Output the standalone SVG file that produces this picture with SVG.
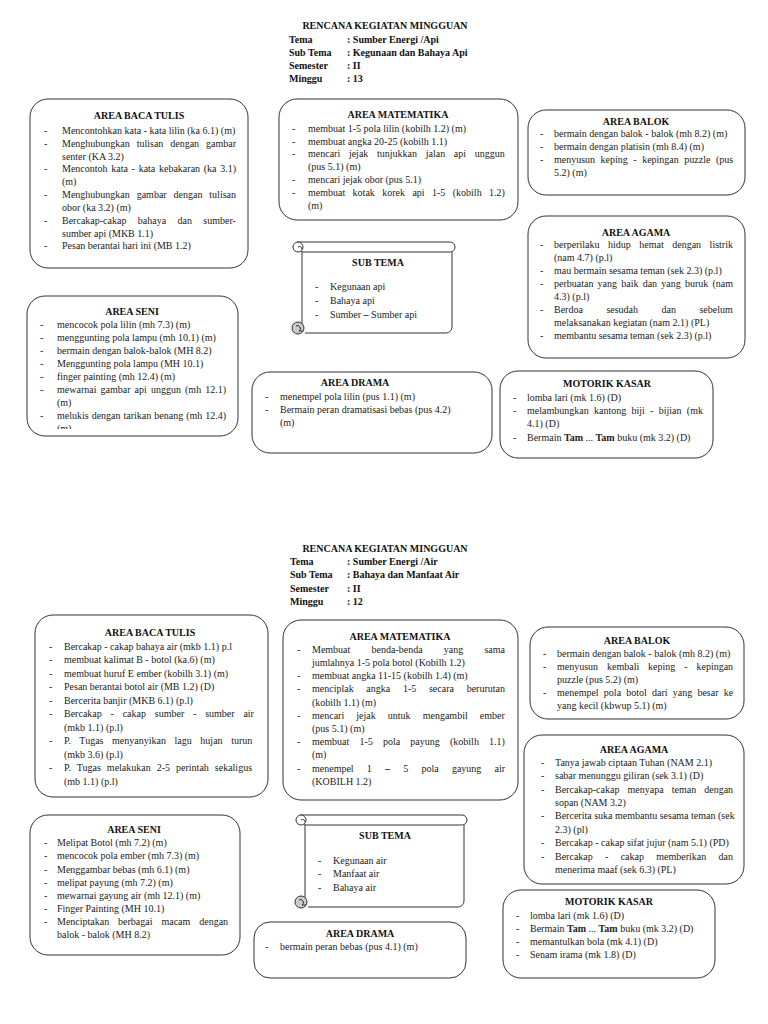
<svg xmlns="http://www.w3.org/2000/svg" width="768" height="1024" viewBox="0 0 768 1024">
<defs>
<style>
.t{font-family:"Liberation Serif","Times New Roman",serif;font-size:10px;fill:#222}
.h{font-family:"Liberation Serif","Times New Roman",serif;font-size:10px;font-weight:bold;fill:#111;text-anchor:middle}
.hd{font-family:"Liberation Serif","Times New Roman",serif;font-size:10px;font-weight:bold;fill:#111}
.box{fill:#fff;stroke:#333;stroke-width:1}
.scr{fill:#fff;stroke:#333;stroke-width:1}
.curl{fill:#ccc;stroke:#333;stroke-width:1}
.b{font-weight:bold}
</style>
<clipPath id="clipSeni"><rect x="27" y="296" width="212" height="133"/></clipPath>
</defs>
<rect width="768" height="1024" fill="#fff"/>

<!-- ===== TOP HEADER ===== -->
<g id="header1">
<text class="h" x="385" y="29">RENCANA KEGIATAN MINGGUAN</text>
<text class="hd" x="289" y="42.5">Tema</text><text class="hd" x="347" y="42.5">: Sumber Energi /Api</text>
<text class="hd" x="289" y="56">Sub Tema</text><text class="hd" x="347" y="56">: Kegunaan dan Bahaya Api</text>
<text class="hd" x="289" y="69">Semester</text><text class="hd" x="347" y="69">: II</text>
<text class="hd" x="289" y="82">Minggu</text><text class="hd" x="347" y="82">: 13</text>
</g>

<g id="connectors"></g>

<g id="bacaTulis1">
<rect class="box" x="30" y="99" width="218" height="169" rx="18"/>
<text class="h" x="139" y="119">AREA BACA TULIS</text>
<text class="t" x="44" y="133.5">-</text><text class="t" x="62" y="133.5">Mencontohkan kata - kata lilin (ka 6.1) (m)</text>
<text class="t" x="44" y="146.5">-</text><text class="t" x="62" y="146.5" style="word-spacing:4.4px">Menghubungkan tulisan dengan gambar</text>
<text class="t" x="62" y="159.5">senter (KA 3.2)</text>
<text class="t" x="44" y="172">-</text><text class="t" x="62" y="172" style="word-spacing:1.2px">Mencontoh kata - kata kebakaran (ka 3.1)</text>
<text class="t" x="62" y="185">(m)</text>
<text class="t" x="44" y="198">-</text><text class="t" x="62" y="198" style="word-spacing:4.4px">Menghubungkan gambar dengan tulisan</text>
<text class="t" x="62" y="211">obor (ka 3.2) (m)</text>
<text class="t" x="44" y="223.5">-</text><text class="t" x="62" y="223.5" style="word-spacing:8.9px">Bercakap-cakap bahaya dan sumber-</text>
<text class="t" x="62" y="236.5">sumber api (MKB 1.1)</text>
<text class="t" x="44" y="249">-</text><text class="t" x="62" y="249">Pesan berantai hari ini (MB 1.2)</text>
</g>

<g id="matematika1">
<rect class="box" x="279" y="99" width="239" height="121" rx="18"/>
<text class="h" x="398" y="118">AREA MATEMATIKA</text>
<text class="t" x="292" y="131.5">-</text><text class="t" x="308" y="131.5">membuat 1-5 pola lilin (kobilh 1.2) (m)</text>
<text class="t" x="292" y="144.5">-</text><text class="t" x="308" y="144.5">membuat angka 20-25 (kobilh 1.1)</text>
<text class="t" x="292" y="157">-</text><text class="t" x="308" y="157" style="word-spacing:6.2px">mencari jejak tunjukkan jalan api unggun</text>
<text class="t" x="308" y="170">(pus 5.1) (m)</text>
<text class="t" x="292" y="183">-</text><text class="t" x="308" y="183">mencari jejak obor (pus 5.1)</text>
<text class="t" x="292" y="196">-</text><text class="t" x="308" y="196" style="word-spacing:4.9px">membuat kotak korek api 1-5 (kobilh 1.2)</text>
<text class="t" x="308" y="208.5">(m)</text>
</g>

<g id="balok1">
<rect class="box" x="528" y="110" width="217" height="85" rx="18"/>
<text class="h" x="636" y="125">AREA BALOK</text>
<text class="t" x="540" y="136.5">-</text><text class="t" x="554" y="136.5">bermain dengan balok - balok (mh 8.2) (m)</text>
<text class="t" x="540" y="149.5">-</text><text class="t" x="554" y="149.5">bermain dengan platisin (mh 8.4) (m)</text>
<text class="t" x="540" y="163">-</text><text class="t" x="554" y="163" style="word-spacing:3px">menyusun keping - kepingan puzzle (pus</text>
<text class="t" x="554" y="176">5.2) (m)</text>
</g>

<g id="agama1">
<rect class="box" x="528" y="216" width="217" height="142" rx="18"/>
<text class="h" x="636" y="235.5">AREA AGAMA</text>
<text class="t" x="540" y="248">-</text><text class="t" x="554" y="248" style="word-spacing:6px">berperilaku hidup hemat dengan listrik</text>
<text class="t" x="554" y="261">(nam 4.7) (p.l)</text>
<text class="t" x="540" y="274">-</text><text class="t" x="554" y="274">mau bermain sesama teman (sek 2.3) (p.l)</text>
<text class="t" x="540" y="287">-</text><text class="t" x="554" y="287" style="word-spacing:1.7px">perbuatan yang baik dan yang buruk (nam</text>
<text class="t" x="554" y="300">4.3) (p.l)</text>
<text class="t" x="540" y="313">-</text><text class="t" x="554" y="313" style="word-spacing:21px">Berdoa sesudah dan sebelum</text>
<text class="t" x="554" y="326">melaksanakan kegiatan (nam 2.1) (PL)</text>
<text class="t" x="540" y="339">-</text><text class="t" x="554" y="339">membantu sesama teman (sek 2.3) (p.l)</text>
</g>

<g id="subTema1">
<path class="scr" d="M297,242 H450 A5,5 0 0 1 450,252 H302 Z"/>
<path class="scr" d="M302,252 V325 M305,333 H446 A6,6 0 0 0 452,327 V252"/>
<circle class="scr" cx="298" cy="247" r="5"/>
<path fill="none" stroke="#333" d="M298,247 A2.5,2.5 0 0 1 302,249"/>
<circle class="curl" cx="298" cy="328" r="6"/>
<path fill="none" stroke="#333" d="M296,326 A2.5,2.5 0 1 1 299,331 L303,331"/>
<text class="h" x="378" y="265.5">SUB TEMA</text>
<text class="t" x="315" y="290">-</text><text class="t" x="330" y="290">Kegunaan api</text>
<text class="t" x="315" y="303.5">-</text><text class="t" x="330" y="303.5">Bahaya api</text>
<text class="t" x="315" y="317.5">-</text><text class="t" x="330" y="317.5">Sumber <tspan class="b">–</tspan> Sumber api</text>
</g>

<g id="seni1">
<rect class="box" x="27" y="296" width="211" height="140" rx="18"/>
<text class="h" x="132" y="314.5">AREA SENI</text>
<g clip-path="url(#clipSeni)">
<text class="t" x="40" y="327.5">-</text><text class="t" x="57" y="327.5">mencocok pola lilin (mh 7.3) (m)</text>
<text class="t" x="40" y="340.5">-</text><text class="t" x="57" y="340.5">menggunting pola lampu (mh 10.1) (m)</text>
<text class="t" x="40" y="353.5">-</text><text class="t" x="57" y="353.5">bermain dengan balok-balok (MH 8.2)</text>
<text class="t" x="40" y="366.5">-</text><text class="t" x="57" y="366.5">Menggunting pola lampu (MH 10.1)</text>
<text class="t" x="40" y="379.5">-</text><text class="t" x="57" y="379.5">finger painting (mh 12.4) (m)</text>
<text class="t" x="40" y="392.5">-</text><text class="t" x="57" y="392.5" style="word-spacing:1.6px">mewarnai gambar api unggun (mh 12.1)</text>
<text class="t" x="57" y="405.5">(m)</text>
<text class="t" x="40" y="418.5">-</text><text class="t" x="57" y="418.5" style="word-spacing:0.5px">melukis dengan tarikan benang (mh 12.4)</text>
<text class="t" x="57" y="431.5">(m)</text>
</g>
</g>

<g id="drama1">
<rect class="box" x="252" y="372" width="240" height="81" rx="18"/>
<text class="h" x="355" y="385.5">AREA DRAMA</text>
<text class="t" x="265" y="399.5">-</text><text class="t" x="280" y="399.5">menempel pola lilin (pus 1.1) (m)</text>
<text class="t" x="265" y="412.5">-</text><text class="t" x="280" y="412.5">Bermain peran dramatisasi bebas (pus 4.2)</text>
<text class="t" x="280" y="425.5">(m)</text>
</g>

<g id="motorik1">
<rect class="box" x="500" y="371" width="213" height="87" rx="18"/>
<text class="h" x="607" y="386.5">MOTORIK KASAR</text>
<text class="t" x="513" y="400.5">-</text><text class="t" x="527" y="400.5">lomba lari (mk 1.6) (D)</text>
<text class="t" x="513" y="413.5">-</text><text class="t" x="527" y="413.5" style="word-spacing:2.8px">melambungkan kantong biji - bijian (mk</text>
<text class="t" x="527" y="426.5">4.1) (D)</text>
<text class="t" x="513" y="440.5">-</text><text class="t" x="527" y="440.5">Bermain <tspan class="b">Tam</tspan> ... <tspan class="b">Tam</tspan> buku (mk 3.2) (D)</text>
</g>

<!-- ===== BOTTOM HEADER ===== -->
<g id="header2">
<text class="h" x="385" y="552">RENCANA KEGIATAN MINGGUAN</text>
<text class="hd" x="290" y="565">Tema</text><text class="hd" x="347" y="565">: Sumber Energi /Air</text>
<text class="hd" x="290" y="578">Sub Tema</text><text class="hd" x="347" y="578">: Bahaya dan Manfaat Air</text>
<text class="hd" x="290" y="591.5">Semester</text><text class="hd" x="347" y="591.5">: II</text>
<text class="hd" x="290" y="604.5">Minggu</text><text class="hd" x="347" y="604.5">: 12</text>
</g>

<g id="bacaTulis2">
<rect class="box" x="35" y="615" width="233" height="182" rx="18"/>
<text class="h" x="150" y="635.5">AREA BACA TULIS</text>
<text class="t" x="49" y="649.5">-</text><text class="t" x="64" y="649.5">Bercakap - cakap bahaya air (mkb 1.1) p.l</text>
<text class="t" x="49" y="663">-</text><text class="t" x="64" y="663">membuat kalimat B - botol (ka.6) (m)</text>
<text class="t" x="49" y="676.5">-</text><text class="t" x="64" y="676.5">membuat huruf E ember (kobilh 3.1) (m)</text>
<text class="t" x="49" y="690">-</text><text class="t" x="64" y="690">Pesan berantai botol air (MB 1.2) (D)</text>
<text class="t" x="49" y="703.5">-</text><text class="t" x="64" y="703.5">Bercerita banjir (MKB 6.1) (p.l)</text>
<text class="t" x="49" y="717">-</text><text class="t" x="64" y="717" style="word-spacing:6.3px">Bercakap - cakap sumber - sumber air</text>
<text class="t" x="64" y="730.5">(mkb 1.1) (p.l)</text>
<text class="t" x="49" y="744">-</text><text class="t" x="64" y="744" style="word-spacing:6.1px">P. Tugas menyanyikan lagu hujan turun</text>
<text class="t" x="64" y="757.5">(mkb 3.6) (p.l)</text>
<text class="t" x="49" y="771">-</text><text class="t" x="64" y="771" style="word-spacing:3.5px">P. Tugas melakukan 2-5 perintah sekaligus</text>
<text class="t" x="64" y="784.5">(mb 1.1) (p.l)</text>
</g>

<g id="matematika2">
<rect class="box" x="283" y="620" width="235" height="180" rx="18"/>
<text class="h" x="400" y="639.5">AREA MATEMATIKA</text>
<text class="t" x="297" y="652.5">-</text><text class="t" x="312" y="652.5" style="word-spacing:18.7px">Membuat benda-benda yang sama</text>
<text class="t" x="312" y="665.5">jumlahnya 1-5 pola botol (Kobilh 1.2)</text>
<text class="t" x="297" y="679">-</text><text class="t" x="312" y="679">membuat angka 11-15 (kobilh 1.4) (m)</text>
<text class="t" x="297" y="692">-</text><text class="t" x="312" y="692" style="word-spacing:10.2px">menciplak angka 1-5 secara berurutan</text>
<text class="t" x="312" y="705.5">(kobilh 1.1) (m)</text>
<text class="t" x="297" y="718.5">-</text><text class="t" x="312" y="718.5" style="word-spacing:9.6px">mencari jejak untuk mengambil ember</text>
<text class="t" x="312" y="731.5">(pus 5.1) (m)</text>
<text class="t" x="297" y="745">-</text><text class="t" x="312" y="745" style="word-spacing:7.7px">membuat 1-5 pola payung (kobilh 1.1)</text>
<text class="t" x="312" y="758">(m)</text>
<text class="t" x="297" y="771.5">-</text><text class="t" x="312" y="771.5" style="word-spacing:10.7px">menempel 1 <tspan class="b">–</tspan> 5 pola gayung air</text>
<text class="t" x="312" y="784.5">(KOBILH 1.2)</text>
</g>

<g id="balok2">
<rect class="box" x="530" y="627" width="214" height="92" rx="18"/>
<text class="h" x="637" y="643.5">AREA BALOK</text>
<text class="t" x="543" y="656.5">-</text><text class="t" x="557" y="656.5">bermain dengan balok - balok (mh 8.2) (m)</text>
<text class="t" x="543" y="669.5">-</text><text class="t" x="557" y="669.5" style="word-spacing:6.4px">menyusun kembali keping - kepingan</text>
<text class="t" x="557" y="682.5">puzzle (pus 5.2) (m)</text>
<text class="t" x="543" y="695.5">-</text><text class="t" x="557" y="695.5" style="word-spacing:2.7px">menempel pola botol dari yang besar ke</text>
<text class="t" x="557" y="708.5">yang kecil (kbwup 5.1) (m)</text>
</g>

<g id="agama2">
<rect class="box" x="524" y="735" width="220" height="149" rx="18"/>
<text class="h" x="634" y="752.5">AREA AGAMA</text>
<text class="t" x="541" y="765.5">-</text><text class="t" x="555" y="765.5">Tanya jawab ciptaan Tuhan (NAM 2.1)</text>
<text class="t" x="541" y="779">-</text><text class="t" x="555" y="779">sabar menunggu giliran (sek 3.1) (D)</text>
<text class="t" x="541" y="792.5">-</text><text class="t" x="555" y="792.5" style="word-spacing:5.6px">Bercakap-cakap menyapa teman dengan</text>
<text class="t" x="555" y="805.5">sopan (NAM 3.2)</text>
<text class="t" x="541" y="819">-</text><text class="t" x="555" y="819">Bercerita suka membantu sesama teman (sek</text>
<text class="t" x="555" y="832.5">2.3) (pl)</text>
<text class="t" x="541" y="846">-</text><text class="t" x="555" y="846">Bercakap - cakap sifat jujur (nam 5.1) (PD)</text>
<text class="t" x="541" y="859.5">-</text><text class="t" x="555" y="859.5" style="word-spacing:9.8px">Bercakap - cakap memberikan dan</text>
<text class="t" x="555" y="872.5">menerima maaf (sek 6.3) (PL)</text>
</g>

<g id="seni2">
<rect class="box" x="30" y="815" width="210" height="140" rx="18"/>
<text class="h" x="134" y="832.5">AREA SENI</text>
<text class="t" x="44" y="845.5">-</text><text class="t" x="57" y="845.5">Melipat Botol (mh 7.2) (m)</text>
<text class="t" x="44" y="859">-</text><text class="t" x="57" y="859">mencocok pola ember (mh 7.3) (m)</text>
<text class="t" x="44" y="872.5">-</text><text class="t" x="57" y="872.5">Menggambar bebas (mh 6.1) (m)</text>
<text class="t" x="44" y="885.5">-</text><text class="t" x="57" y="885.5">melipat payung (mh 7.2) (m)</text>
<text class="t" x="44" y="898.5">-</text><text class="t" x="57" y="898.5">mewarnai gayung air (mh 12.1) (m)</text>
<text class="t" x="44" y="911.5">-</text><text class="t" x="57" y="911.5">Finger Painting (MH 10.1)</text>
<text class="t" x="44" y="924.5">-</text><text class="t" x="57" y="924.5" style="word-spacing:6.4px">Menciptakan berbagai macam dengan</text>
<text class="t" x="57" y="937.5">balok - balok (MH 8.2)</text>
</g>

<g id="subTema2">
<path class="scr" d="M300,815 H462 A5,5 0 0 1 462,825 H305 Z"/>
<path class="scr" d="M305,825 V899 M308,907 H458 A6,6 0 0 0 464,901 V825"/>
<circle class="scr" cx="301" cy="820" r="5"/>
<path fill="none" stroke="#333" d="M301,820 A2.5,2.5 0 0 1 305,822"/>
<circle class="curl" cx="301" cy="902" r="6"/>
<path fill="none" stroke="#333" d="M299,900 A2.5,2.5 0 1 1 302,905 L306,905"/>
<text class="h" x="385" y="838.5">SUB TEMA</text>
<text class="t" x="318" y="863.5">-</text><text class="t" x="333" y="863.5">Kegunaan air</text>
<text class="t" x="318" y="876.5">-</text><text class="t" x="333" y="876.5">Manfaat air</text>
<text class="t" x="318" y="890.5">-</text><text class="t" x="333" y="890.5">Bahaya air</text>
</g>

<g id="drama2">
<rect class="box" x="254" y="922" width="212" height="56" rx="16"/>
<text class="h" x="360" y="936.5">AREA DRAMA</text>
<text class="t" x="265" y="949.5">-</text><text class="t" x="280" y="949.5">bermain peran bebas (pus 4.1) (m)</text>
</g>

<g id="motorik2">
<rect class="box" x="503" y="890" width="212" height="88" rx="18"/>
<text class="h" x="609" y="905">MOTORIK KASAR</text>
<text class="t" x="516" y="918.5">-</text><text class="t" x="530" y="918.5">lomba lari (mk 1.6) (D)</text>
<text class="t" x="516" y="931.5">-</text><text class="t" x="530" y="931.5">Bermain <tspan class="b">Tam</tspan> ... <tspan class="b">Tam</tspan> buku (mk 3.2) (D)</text>
<text class="t" x="516" y="944.5">-</text><text class="t" x="530" y="944.5">memantulkan bola (mk 4.1) (D)</text>
<text class="t" x="516" y="957.5">-</text><text class="t" x="530" y="957.5">Senam irama (mk 1.8) (D)</text>
</g>
</svg>
